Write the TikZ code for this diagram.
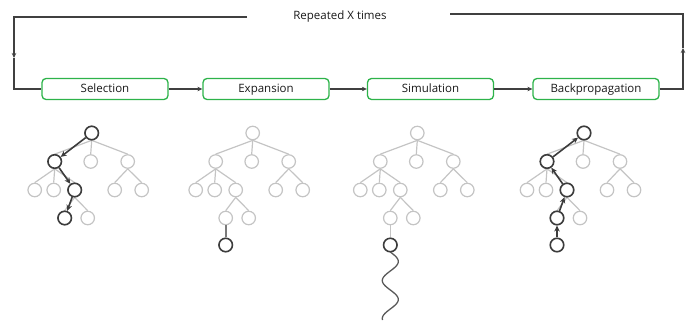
\documentclass[tikz,border=0pt]{standalone}
\usepackage{fontspec}
\setmainfont{Open Sans}
\usetikzlibrary{arrows.meta}
\definecolor{lgray}{HTML}{C4C4C4}
\definecolor{dgray}{HTML}{3C3C3C}
\definecolor{mgray}{HTML}{7A7A7A}
\definecolor{boxgreen}{HTML}{2DB34A}
\tikzset{
  stage/.style={draw=boxgreen, line width=1.3pt, rounded corners=4pt, minimum width=126pt, minimum height=21pt, inner sep=0pt, text height=8.5pt, text depth=2.5pt, font=\fontsize{11.5}{13}\selectfont, text=black!90},
  conn/.style={draw=black!75, line width=1.1pt},
  tip/.style={-{Stealth[length=5pt,width=4.5pt]}},
  lt/.style={circle, draw=lgray, fill=white, line width=1.2pt, minimum size=13.5pt, inner sep=0pt},
  dk/.style={circle, draw=dgray, fill=white, line width=1.6pt, minimum size=13.5pt, inner sep=0pt},
  le/.style={draw=lgray, line width=1.2pt},
  dke/.style={draw=dgray, line width=1.6pt, -{Stealth[length=6pt,width=5.5pt]}},
}
\newcommand\mctstree[2]{%
  \begin{scope}[shift={(#2,133)}]
    \node[lt] (#1r) at (0,0) {};
    \node[lt] (#1a) at (-37,28.5) {};
    \node[lt] (#1b) at (-1,28.5) {};
    \node[lt] (#1c) at (36,28.5) {};
    \node[lt] (#1d) at (-57,57) {};
    \node[lt] (#1e) at (-38,57) {};
    \node[lt] (#1f) at (-17,57) {};
    \node[lt] (#1g) at (23,57) {};
    \node[lt] (#1h) at (50,57) {};
    \node[lt] (#1i) at (-27,85) {};
    \node[lt] (#1j) at (-4,85) {};
    \foreach \p/\c in {r/a,r/b,r/c,a/d,a/e,a/f,c/g,c/h,f/i,f/j}
      \draw[le] (#1\p.south) -- (#1\c.north);
  \end{scope}}
\begin{document}
\begin{tikzpicture}[x=1pt,y=-1pt]
\useasboundingbox (0,0) rectangle (687,321);
% stages
\node[stage] (sel) at (105,89) {Selection};
\node[stage] (exp) at (266,89) {Expansion};
\node[stage] (sim) at (430.5,89) {Simulation};
\node[stage] (bp) at (596,89) {Backpropagation};
\node[font=\fontsize{11.5}{13}\selectfont, text=black!90] (rep) at (340,17) {Repeated X times};
\coordinate (tl) at (247,17);
\coordinate (lc) at (14,58);
\coordinate (rc) at (683,48);
\coordinate (tr) at (450,14);
\draw[conn, tip] (tl) -| (lc);
\draw[conn] (lc) |- (sel.west);
\draw[conn, tip] (sel) -- (exp);
\draw[conn, tip] (exp) -- (sim);
\draw[conn, tip] (sim) -- (bp);
\draw[conn, tip] (bp.east) -| (rc);
\draw[conn] (rc) |- (tr);
% Selection tree
\mctstree{S}{91.7}
\node[dk] (Sr) at (Sr) {};
\node[dk] (Sa) at (Sa) {};
\node[dk] (Sf) at (Sf) {};
\node[dk] (Si) at (Si) {};
\draw[dke] (Sr) -- (Sa);
\draw[dke] (Sa) -- (Sf);
\draw[dke] (Sf) -- (Si);
% Expansion tree
\mctstree{E}{252.7}
\node[dk] (Ek) at ([yshift=-27pt]Ei) {};
\draw[draw=mgray, line width=1.7pt] (Ei.south) -- (Ek.north);
% Simulation tree
\mctstree{M}{417.3}
\node[dk] (Mk) at ([yshift=-27pt]Mi) {};
\draw[le] (Mi.south) -- (Mk.north);
\draw[draw=black!65, line width=1.3pt] plot[domain=0:68, samples=80, smooth] ({390.3+8*sin(9.4737*\x)}, {252+\x});
% Backpropagation tree
\mctstree{B}{584}
\node[dk] (Bk) at ([yshift=-27pt]Bi) {};
\node[dk] (Br) at (Br) {};
\node[dk] (Ba) at (Ba) {};
\node[dk] (Bf) at (Bf) {};
\node[dk] (Bi) at (Bi) {};
\draw[dke] (Bk) -- (Bi);
\draw[dke] (Bi) -- (Bf);
\draw[dke] (Bf) -- (Ba);
\draw[dke] (Ba) -- (Br);
\end{tikzpicture}
\end{document}
